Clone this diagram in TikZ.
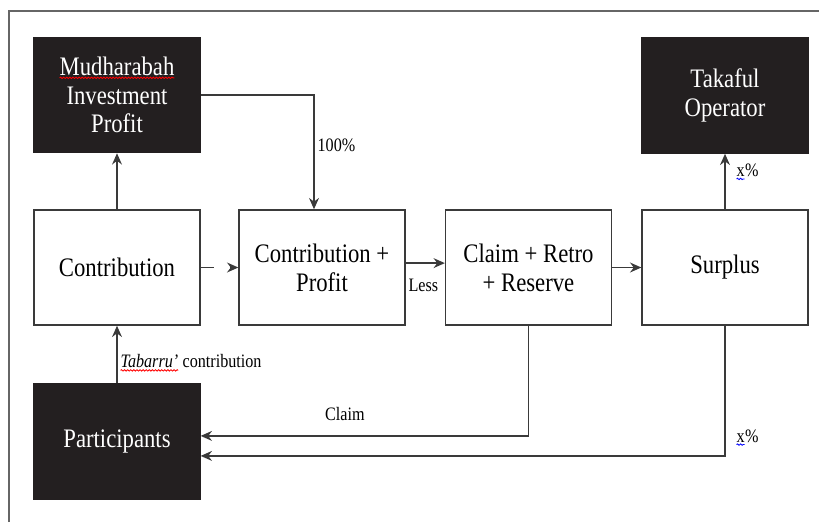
\documentclass[tikz,border=0pt]{standalone}
\usepackage{fontspec}
\setmainfont{Liberation Serif}[FakeStretch=0.85]
\usepackage{tikz}
\usetikzlibrary{positioning,arrows.meta,decorations.pathmorphing}
\definecolor{boxblack}{HTML}{231F20}
\definecolor{linegray}{HTML}{3A3A3A}
\newcommand*{\spellmark}[2]{% colour, word
	\tikz[baseline=(w.base),x=1cm,y=1cm]{\node[rectangle,draw=none,fill=none,minimum size=0pt,inner sep=0pt,outer sep=0pt,anchor=base] (w) at (0,0) {#2};
	\draw[#1,-,solid,line width=0.6pt,decorate,decoration={snake,amplitude=0.5pt,segment length=2.2pt}] ([yshift=-1.6pt]w.south west) -- ([yshift=-1.6pt]w.south east);}%
}
\tikzset{flowbox/.style={rectangle, draw=linegray, line width=0.9pt, minimum width=4.15cm, minimum height=2.88cm, align=center, inner sep=2pt, font=\fontsize{19}{20.5}\selectfont},
darkbox/.style={flowbox, fill=boxblack, draw=boxblack, text=white},
flowline/.style={draw=linegray, line width=1.2pt, -{Stealth[length=8pt,width=7pt]}},
tag/.style={font=\fontsize{13.5}{15}\selectfont, inner sep=2pt}}

\begin{document}
\begin{tikzpicture}[x=0.025cm,y=-0.025cm]
		\useasboundingbox (0,0) rectangle (819,522);
		% frame
		\draw[gray!80!black, line width=1.2pt] (9,522) -- (9,11) -- (819,11);
		% boxes
		\node[darkbox] (mudharabah) at (117,95) {\spellmark{red}{Mudharabah}\\Investment\\Profit};
		\node[darkbox] (operator) at (725,95.5) {Takaful\\Operator};
		\node[flowbox] (contrib) at (117,267.5) {Contribution};
		\node[flowbox] (contribprofit) at (322,267.5) {Contribution +\\Profit};
		\node[flowbox] (claim) at (528.5,267.5) {Claim + Retro\\+ Reserve};
		\node[flowbox] (surplus) at (725,267.5) {Surplus};
		\node[darkbox] (participants) at (117,441.5) {Participants};
		% flows
		\draw[flowline] (contrib) -- (mudharabah);
		\draw[flowline] (mudharabah.east) -| ([xshift=-0.2cm]contribprofit.north)
			node[tag, pos=0.72, right] {100\%};
		\draw[flowline, dash pattern=on 0.33cm off 0.4cm] (contrib) -- (contribprofit);
		\draw[flowline] ([yshift=0.11cm]contribprofit.east) -- ([yshift=0.11cm]claim.west)
			node[tag, pos=0.45, below=0.3cm] {Less};
		\draw[flowline] (claim) -- (surplus);
		\draw[flowline] (surplus) -- (operator)
			node[tag, pos=0.67, right, xshift=0.2cm] {\spellmark{blue}{x}\%};
		\draw[flowline] (participants) -- (contrib)
			node[tag, pos=0.35, right] {\spellmark{red}{\itshape Tabarru'} contribution};
		\draw[flowline] (claim.south) |- ([yshift=0.14cm]participants.east)
			node[tag, pos=0.78, above=0.3cm] {Claim};
		\draw[flowline] (surplus.south) |- ([yshift=-0.36cm]participants.east)
			node[tag, pos=0.43, right, xshift=0.2cm] {\spellmark{blue}{x}\%};
	\end{tikzpicture}
\end{document}
